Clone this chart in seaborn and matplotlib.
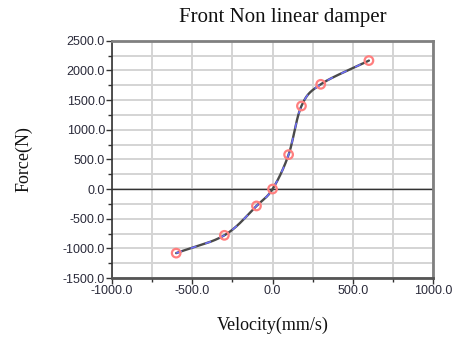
import numpy as np
import pandas as pd
import matplotlib
matplotlib.use("Agg")
import matplotlib.pyplot as plt
import seaborn as sns
from matplotlib.ticker import MultipleLocator, FormatStrFormatter

velocity = [-600, -300, -100, 0, 100, 180, 300, 600]
force = [-1080, -780, -285, 0, 580, 1400, 1765, 2165]

title = "Front Non linear damper"
xlabel = "Velocity(mm/s)"
ylabel = "Force(N)"

df = pd.DataFrame({"Velocity": velocity, "Force": force})

sns.set_theme(style="white")
plt.rcParams["font.family"] = ["Liberation Sans", "DejaVu Sans"]

fig = plt.figure(figsize=(4.55, 3.42), dpi=100)
ax = fig.add_axes([0.246, 0.187, 0.706, 0.694])

# smoothed line rendering of the data (Catmull-Rom, like a spreadsheet "smoothed line")
x = np.array(velocity, float)
y = np.array(force, float)
px = np.concatenate([[2 * x[0] - x[1]], x, [2 * x[-1] - x[-2]]])
py = np.concatenate([[2 * y[0] - y[1]], y, [2 * y[-1] - y[-2]]])
sx, sy = [], []
t = np.linspace(0, 1, 20)
for i in range(1, len(px) - 2):
    p0, p1, p2, p3 = px[i - 1], px[i], px[i + 1], px[i + 2]
    q0, q1, q2, q3 = py[i - 1], py[i], py[i + 1], py[i + 2]
    sx.extend(0.5 * (2 * p1 + (-p0 + p2) * t + (2 * p0 - 5 * p1 + 4 * p2 - p3) * t**2 + (-p0 + 3 * p1 - 3 * p2 + p3) * t**3))
    sy.extend(0.5 * (2 * q1 + (-q0 + q2) * t + (2 * q0 - 5 * q1 + 4 * q2 - q3) * t**2 + (-q0 + 3 * q1 - 3 * q2 + q3) * t**3))
smooth = pd.DataFrame({"Velocity": sx, "Force": sy})

ax.axhline(0, color="#333333", lw=1.0, zorder=2)
sns.lineplot(data=smooth, x="Velocity", y="Force", ax=ax, color="#4a4a4a", lw=1.7, sort=False, zorder=3)
sns.lineplot(data=smooth, x="Velocity", y="Force", ax=ax, color="#7070ff", lw=1.1, sort=False, zorder=4)
ax.lines[-1].set_linestyle((0, (4, 6)))
sns.scatterplot(data=df, x="Velocity", y="Force", ax=ax, s=38, marker="o",
                facecolor="none", edgecolor="#ff7f7f", linewidth=1.6, zorder=5)

ax.set_xlim(-1000, 1000)
ax.set_ylim(-1500, 2500)
ax.xaxis.set_major_locator(MultipleLocator(500))
ax.xaxis.set_minor_locator(MultipleLocator(250))
ax.yaxis.set_major_locator(MultipleLocator(500))
ax.yaxis.set_minor_locator(MultipleLocator(250))
ax.xaxis.set_major_formatter(FormatStrFormatter("%.1f"))
ax.yaxis.set_major_formatter(FormatStrFormatter("%.1f"))
ax.grid(True, which="both", color="#d4d4d4", lw=1.4)
ax.set_axisbelow(True)

ax.tick_params(axis="both", which="major", direction="out", length=4, width=1, color="#333333",
               labelsize=9, labelcolor="#2a2a3a", pad=1, left=True, bottom=True)
ax.tick_params(axis="both", which="minor", direction="out", length=3, width=1, color="#333333",
               left=True, bottom=True)

for side in ["top", "right"]:
    ax.spines[side].set_color("#808080")
    ax.spines[side].set_linewidth(2.0)
ax.spines["left"].set_color("#333333")
ax.spines["left"].set_linewidth(1.2)
ax.spines["bottom"].set_color("#555555")
ax.spines["bottom"].set_linewidth(2.0)

ax.set_xlabel(xlabel, family=["Liberation Serif", "DejaVu Serif"], fontsize=13, color="#111111", labelpad=14)
ax.set_ylabel(ylabel, family=["Liberation Serif", "DejaVu Serif"], fontsize=13, color="#111111", labelpad=22)
fig.text(0.622, 0.95, title, family=["Liberation Serif", "DejaVu Serif"], fontsize=15,
         color="#111111", ha="center", va="center")

fig.savefig("out.png", dpi=100, facecolor="white")
